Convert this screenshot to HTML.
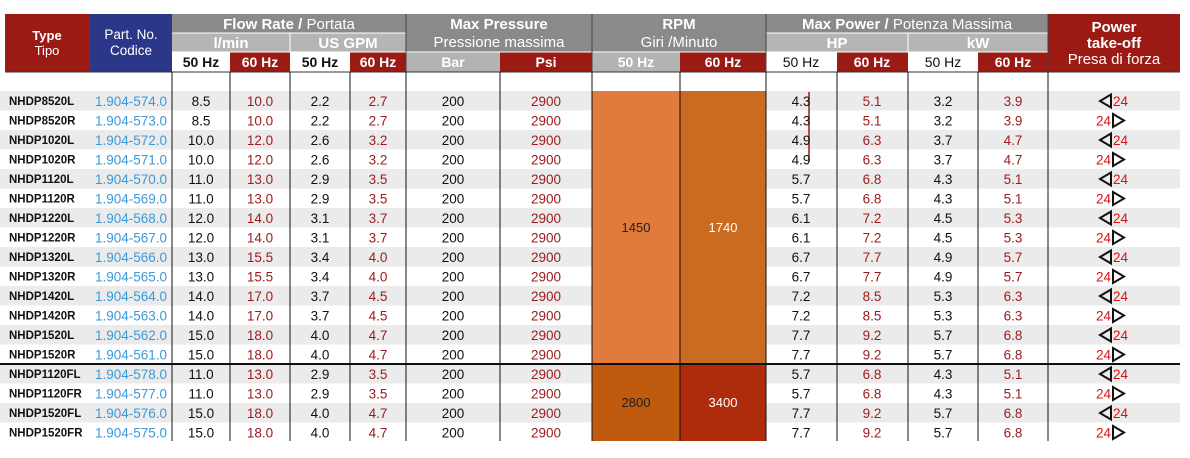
<!DOCTYPE html><html><head><meta charset="utf-8"><style>body{margin:0;background:#fff}svg{display:block}text{font-family:"Liberation Sans",Arial,sans-serif}</style></head><body>
<svg width="1190" height="458" xmlns="http://www.w3.org/2000/svg">
<rect x="5" y="14" width="85" height="58" fill="#9c1a14"/>
<rect x="90" y="14" width="82" height="58" fill="#2b3889"/>
<rect x="172" y="14" width="234" height="19" fill="#8a8a8a"/>
<rect x="172" y="33" width="234" height="19" fill="#b5b5b5"/>
<rect x="406" y="14" width="186" height="38" fill="#8a8a8a"/>
<rect x="592" y="14" width="174" height="38" fill="#8a8a8a"/>
<rect x="766" y="14" width="282" height="19" fill="#8a8a8a"/>
<rect x="766" y="33" width="282" height="19" fill="#b5b5b5"/>
<rect x="1048" y="14" width="132" height="58" fill="#9c1a14"/>
<rect x="230" y="52" width="60" height="20" fill="#9c1a14"/>
<rect x="350" y="52" width="56" height="20" fill="#9c1a14"/>
<rect x="406" y="52" width="94" height="20" fill="#b3b3b3"/>
<rect x="500" y="52" width="92" height="20" fill="#9c1a14"/>
<rect x="592" y="52" width="88" height="20" fill="#b3b3b3"/>
<rect x="680" y="52" width="86" height="20" fill="#9c1a14"/>
<rect x="837" y="52" width="71" height="20" fill="#9c1a14"/>
<rect x="978" y="52" width="70" height="20" fill="#9c1a14"/>
<g stroke="#fff" stroke-width="1">
<line x1="172" y1="33" x2="406" y2="33"/><line x1="766" y1="33" x2="1048" y2="33"/>
<line x1="172" y1="52" x2="1048" y2="52"/>
<line x1="290" y1="33" x2="290" y2="52"/><line x1="908" y1="33" x2="908" y2="52"/>
</g>
<g stroke="#444" stroke-width="1">
<line x1="406" y1="14" x2="406" y2="72"/><line x1="592" y1="14" x2="592" y2="72"/><line x1="766" y1="14" x2="766" y2="72"/><line x1="1048" y1="14" x2="1048" y2="72"/>
</g>
<g fill="#fff" font-size="15" text-anchor="middle">
<text x="47" y="40" font-weight="bold" font-size="13">Type</text><text x="47" y="55" font-size="13">Tipo</text>
<text x="131" y="39" font-size="13.5">Part. No.</text><text x="131" y="55" font-size="13.5">Codice</text>
<text x="289" y="29"><tspan font-weight="bold">Flow Rate / </tspan>Portata</text>
<text x="231" y="48" font-weight="bold">l/min</text><text x="348" y="48" font-weight="bold">US GPM</text>
<text x="499" y="29" font-weight="bold">Max Pressure</text><text x="499" y="47">Pressione massima</text>
<text x="679" y="29" font-weight="bold">RPM</text><text x="679" y="47">Giri /Minuto</text>
<text x="907" y="29"><tspan font-weight="bold">Max Power / </tspan>Potenza Massima</text>
<text x="837" y="48" font-weight="bold">HP</text><text x="978" y="48" font-weight="bold">kW</text>
<text x="1114" y="32" font-weight="bold">Power</text><text x="1114" y="48" font-weight="bold">take-off</text><text x="1114" y="64">Presa di forza</text>
</g>
<g font-size="14" font-weight="bold" text-anchor="middle">
<text x="201" y="67" fill="#111">50 Hz</text><text x="260" y="67" fill="#fff">60 Hz</text>
<text x="320" y="67" fill="#111">50 Hz</text><text x="378" y="67" fill="#fff">60 Hz</text>
<text x="453" y="67" fill="#fff">Bar</text><text x="546" y="67" fill="#fff">Psi</text>
<text x="636" y="67" fill="#fff">50 Hz</text><text x="723" y="67" fill="#fff">60 Hz</text>
<text x="801" y="67" fill="#111" font-weight="normal">50 Hz</text><text x="872" y="67" fill="#fff">60 Hz</text>
<text x="943" y="67" fill="#111" font-weight="normal">50 Hz</text><text x="1013" y="67" fill="#fff">60 Hz</text>
</g>
<line x1="5" y1="72" x2="1180" y2="72" stroke="#333" stroke-width="1"/>
<g fill="#ebebeb">
<rect x="0" y="91" width="1180" height="19.5"/><rect x="0" y="130" width="1180" height="19.5"/><rect x="0" y="169" width="1180" height="19.5"/><rect x="0" y="208" width="1180" height="19.5"/><rect x="0" y="247" width="1180" height="19.5"/><rect x="0" y="286" width="1180" height="19.5"/><rect x="0" y="325" width="1180" height="19.5"/><rect x="0" y="364" width="1180" height="19.5"/><rect x="0" y="403" width="1180" height="19.5"/>
</g>
<rect x="592" y="91" width="88" height="273" fill="#e07b3b"/>
<rect x="680" y="91" width="86" height="273" fill="#c96b20"/>
<rect x="592" y="364" width="88" height="77" fill="#c05a0e"/>
<rect x="680" y="364" width="86" height="77" fill="#ae2c0b"/>
<g stroke="#111" stroke-width="1">
<line x1="172" y1="72" x2="172" y2="441"/><line x1="230" y1="72" x2="230" y2="441"/><line x1="290" y1="72" x2="290" y2="441"/><line x1="350" y1="72" x2="350" y2="441"/><line x1="406" y1="72" x2="406" y2="441"/><line x1="500" y1="72" x2="500" y2="441"/><line x1="592" y1="72" x2="592" y2="441"/><line x1="680" y1="72" x2="680" y2="441"/><line x1="766" y1="72" x2="766" y2="441"/><line x1="837" y1="72" x2="837" y2="441"/><line x1="908" y1="72" x2="908" y2="441"/><line x1="978" y1="72" x2="978" y2="441"/><line x1="1048" y1="72" x2="1048" y2="441"/>
</g>
<line x1="0" y1="364" x2="1180" y2="364" stroke="#111" stroke-width="2"/>
<line x1="809" y1="92" x2="809" y2="162" stroke="#9c1a14" stroke-width="1.5"/>
<g font-size="13" text-anchor="middle">
<text x="636" y="232" fill="#222">1450</text><text x="723" y="232" fill="#fff">1740</text>
<text x="636" y="407" fill="#222">2800</text><text x="723" y="407" fill="#fff">3400</text>
</g>
<g font-size="13.5">
<g font-weight="bold" font-size="11.5" fill="#111">
<text x="9" y="105">NHDP8520L</text><text x="9" y="124.5">NHDP8520R</text><text x="9" y="144">NHDP1020L</text><text x="9" y="163.5">NHDP1020R</text><text x="9" y="183">NHDP1120L</text><text x="9" y="202.5">NHDP1120R</text><text x="9" y="222">NHDP1220L</text><text x="9" y="241.5">NHDP1220R</text><text x="9" y="261">NHDP1320L</text><text x="9" y="280.5">NHDP1320R</text><text x="9" y="300">NHDP1420L</text><text x="9" y="319.5">NHDP1420R</text><text x="9" y="339">NHDP1520L</text><text x="9" y="358.5">NHDP1520R</text><text x="9" y="378">NHDP1120FL</text><text x="9" y="397.5">NHDP1120FR</text><text x="9" y="417">NHDP1520FL</text><text x="9" y="436.5">NHDP1520FR</text>
</g>
<g fill="#3a9ad9">
<text x="95" y="106">1.904-574.0</text><text x="95" y="125.5">1.904-573.0</text><text x="95" y="145">1.904-572.0</text><text x="95" y="164.5">1.904-571.0</text><text x="95" y="184">1.904-570.0</text><text x="95" y="203.5">1.904-569.0</text><text x="95" y="223">1.904-568.0</text><text x="95" y="242.5">1.904-567.0</text><text x="95" y="262">1.904-566.0</text><text x="95" y="281.5">1.904-565.0</text><text x="95" y="301">1.904-564.0</text><text x="95" y="320.5">1.904-563.0</text><text x="95" y="340">1.904-562.0</text><text x="95" y="359.5">1.904-561.0</text><text x="95" y="379">1.904-578.0</text><text x="95" y="398.5">1.904-577.0</text><text x="95" y="418">1.904-576.0</text><text x="95" y="437.5">1.904-575.0</text>
</g>
<g text-anchor="middle" fill="#111">
<g transform="translate(201,0)"><text y="106">8.5</text><text y="125.5">8.5</text><text y="145">10.0</text><text y="164.5">10.0</text><text y="184">11.0</text><text y="203.5">11.0</text><text y="223">12.0</text><text y="242.5">12.0</text><text y="262">13.0</text><text y="281.5">13.0</text><text y="301">14.0</text><text y="320.5">14.0</text><text y="340">15.0</text><text y="359.5">15.0</text><text y="379">11.0</text><text y="398.5">11.0</text><text y="418">15.0</text><text y="437.5">15.0</text></g>
<g transform="translate(320,0)"><text y="106">2.2</text><text y="125.5">2.2</text><text y="145">2.6</text><text y="164.5">2.6</text><text y="184">2.9</text><text y="203.5">2.9</text><text y="223">3.1</text><text y="242.5">3.1</text><text y="262">3.4</text><text y="281.5">3.4</text><text y="301">3.7</text><text y="320.5">3.7</text><text y="340">4.0</text><text y="359.5">4.0</text><text y="379">2.9</text><text y="398.5">2.9</text><text y="418">4.0</text><text y="437.5">4.0</text></g>
<g transform="translate(453,0)"><text y="106">200</text><text y="125.5">200</text><text y="145">200</text><text y="164.5">200</text><text y="184">200</text><text y="203.5">200</text><text y="223">200</text><text y="242.5">200</text><text y="262">200</text><text y="281.5">200</text><text y="301">200</text><text y="320.5">200</text><text y="340">200</text><text y="359.5">200</text><text y="379">200</text><text y="398.5">200</text><text y="418">200</text><text y="437.5">200</text></g>
<g transform="translate(801,0)"><text y="106">4.3</text><text y="125.5">4.3</text><text y="145">4.9</text><text y="164.5">4.9</text><text y="184">5.7</text><text y="203.5">5.7</text><text y="223">6.1</text><text y="242.5">6.1</text><text y="262">6.7</text><text y="281.5">6.7</text><text y="301">7.2</text><text y="320.5">7.2</text><text y="340">7.7</text><text y="359.5">7.7</text><text y="379">5.7</text><text y="398.5">5.7</text><text y="418">7.7</text><text y="437.5">7.7</text></g>
<g transform="translate(943,0)"><text y="106">3.2</text><text y="125.5">3.2</text><text y="145">3.7</text><text y="164.5">3.7</text><text y="184">4.3</text><text y="203.5">4.3</text><text y="223">4.5</text><text y="242.5">4.5</text><text y="262">4.9</text><text y="281.5">4.9</text><text y="301">5.3</text><text y="320.5">5.3</text><text y="340">5.7</text><text y="359.5">5.7</text><text y="379">4.3</text><text y="398.5">4.3</text><text y="418">5.7</text><text y="437.5">5.7</text></g>
</g>
<g text-anchor="middle" fill="#9c1a1a">
<g transform="translate(260,0)"><text y="106">10.0</text><text y="125.5">10.0</text><text y="145">12.0</text><text y="164.5">12.0</text><text y="184">13.0</text><text y="203.5">13.0</text><text y="223">14.0</text><text y="242.5">14.0</text><text y="262">15.5</text><text y="281.5">15.5</text><text y="301">17.0</text><text y="320.5">17.0</text><text y="340">18.0</text><text y="359.5">18.0</text><text y="379">13.0</text><text y="398.5">13.0</text><text y="418">18.0</text><text y="437.5">18.0</text></g>
<g transform="translate(378,0)"><text y="106">2.7</text><text y="125.5">2.7</text><text y="145">3.2</text><text y="164.5">3.2</text><text y="184">3.5</text><text y="203.5">3.5</text><text y="223">3.7</text><text y="242.5">3.7</text><text y="262">4.0</text><text y="281.5">4.0</text><text y="301">4.5</text><text y="320.5">4.5</text><text y="340">4.7</text><text y="359.5">4.7</text><text y="379">3.5</text><text y="398.5">3.5</text><text y="418">4.7</text><text y="437.5">4.7</text></g>
<g transform="translate(546,0)"><text y="106">2900</text><text y="125.5">2900</text><text y="145">2900</text><text y="164.5">2900</text><text y="184">2900</text><text y="203.5">2900</text><text y="223">2900</text><text y="242.5">2900</text><text y="262">2900</text><text y="281.5">2900</text><text y="301">2900</text><text y="320.5">2900</text><text y="340">2900</text><text y="359.5">2900</text><text y="379">2900</text><text y="398.5">2900</text><text y="418">2900</text><text y="437.5">2900</text></g>
<g transform="translate(872,0)"><text y="106">5.1</text><text y="125.5">5.1</text><text y="145">6.3</text><text y="164.5">6.3</text><text y="184">6.8</text><text y="203.5">6.8</text><text y="223">7.2</text><text y="242.5">7.2</text><text y="262">7.7</text><text y="281.5">7.7</text><text y="301">8.5</text><text y="320.5">8.5</text><text y="340">9.2</text><text y="359.5">9.2</text><text y="379">6.8</text><text y="398.5">6.8</text><text y="418">9.2</text><text y="437.5">9.2</text></g>
<g transform="translate(1013,0)"><text y="106">3.9</text><text y="125.5">3.9</text><text y="145">4.7</text><text y="164.5">4.7</text><text y="184">5.1</text><text y="203.5">5.1</text><text y="223">5.3</text><text y="242.5">5.3</text><text y="262">5.7</text><text y="281.5">5.7</text><text y="301">6.3</text><text y="320.5">6.3</text><text y="340">6.8</text><text y="359.5">6.8</text><text y="379">5.1</text><text y="398.5">5.1</text><text y="418">6.8</text><text y="437.5">6.8</text></g>
</g>
<g fill="#d11" font-size="13.5">
<text x="1113" y="106">24</text><text x="1096" y="125.5">24</text><text x="1113" y="145">24</text><text x="1096" y="164.5">24</text><text x="1113" y="184">24</text><text x="1096" y="203.5">24</text><text x="1113" y="223">24</text><text x="1096" y="242.5">24</text><text x="1113" y="262">24</text><text x="1096" y="281.5">24</text><text x="1113" y="301">24</text><text x="1096" y="320.5">24</text><text x="1113" y="340">24</text><text x="1096" y="359.5">24</text><text x="1113" y="379">24</text><text x="1096" y="398.5">24</text><text x="1113" y="418">24</text><text x="1096" y="437.5">24</text>
</g>
<g fill="none" stroke="#111" stroke-width="2">
<path d="M1111 94.5L1100 101L1111 107.5Z"/><path d="M1113 114L1124 120.5L1113 127Z"/>
<path d="M1111 133.5L1100 140L1111 146.5Z"/><path d="M1113 153L1124 159.5L1113 166Z"/>
<path d="M1111 172.5L1100 179L1111 185.5Z"/><path d="M1113 192L1124 198.5L1113 205Z"/>
<path d="M1111 211.5L1100 218L1111 224.5Z"/><path d="M1113 231L1124 237.5L1113 244Z"/>
<path d="M1111 250.5L1100 257L1111 263.5Z"/><path d="M1113 270L1124 276.5L1113 283Z"/>
<path d="M1111 289.5L1100 296L1111 302.5Z"/><path d="M1113 309L1124 315.5L1113 322Z"/>
<path d="M1111 328.5L1100 335L1111 341.5Z"/><path d="M1113 348L1124 354.5L1113 361Z"/>
<path d="M1111 367.5L1100 374L1111 380.5Z"/><path d="M1113 387L1124 393.5L1113 400Z"/>
<path d="M1111 406.5L1100 413L1111 419.5Z"/><path d="M1113 426L1124 432.5L1113 439Z"/>
</g>
</g>
</svg>
</body></html>
